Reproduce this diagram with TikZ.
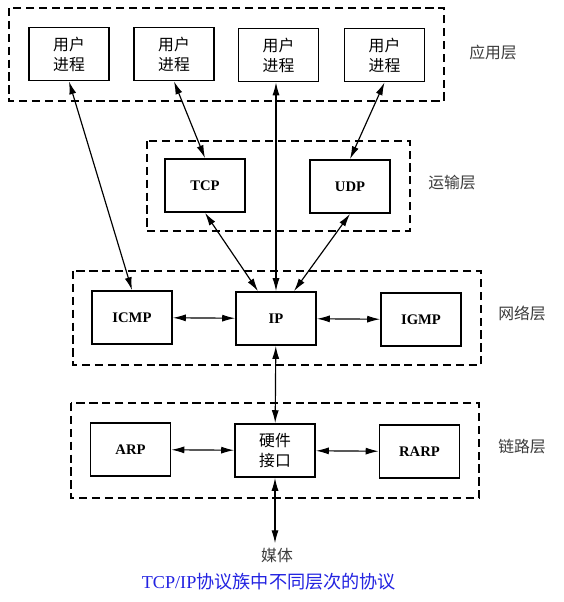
\documentclass[tikz,border=0pt]{standalone}
\usepackage{fontspec}
\setmainfont{Liberation Serif}
\newfontfamily\cjk{Noto Sans CJK SC}
\usetikzlibrary{arrows.meta,calc}

\definecolor{captionblue}{RGB}{35,35,225}
\definecolor{labelgray}{RGB}{60,60,60}

\tikzset{
	box/.style={rectangle, draw, line width=1.5pt, minimum width=2.4cm, minimum height=1.59cm, align=center, font=\bfseries\fontsize{12.5}{14}\selectfont},
	cjkbox/.style={box, font=\cjk\fontsize{13.5}{17}\selectfont},
	layer/.style={draw, dashed, line width=1.3pt, dash pattern=on 7pt off 4pt},
	layername/.style={font=\cjk\fontsize{13.5}{16}\selectfont, text=labelgray}
}

\begin{document}
\begin{tikzpicture}[x=0.03cm, y=-0.03cm, >={Latex[length=11pt,width=6pt]}, line width=1pt]
		\useasboundingbox (0, 0) rectangle (564, 602);

		\draw[layer] (9, 8) rectangle (444, 101);
		\draw[layer] (147, 141) rectangle (410, 231);
		\draw[layer] (73, 271) rectangle (481, 365);
		\draw[layer] (71, 403) rectangle (479, 498);

		\path (69, 54) node[cjkbox] (p1) {用户\\进程}
  		(174, 54) node[cjkbox] (p2) {用户\\进程}
  		(278.5, 55) node[cjkbox] (p3) {用户\\进程}
  		(384.5, 55) node[cjkbox] (p4) {用户\\进程}
  		(205, 185.5) node[box] (tcp) {TCP}
  		(350, 186.5) node[box] (udp) {UDP}
  		(132, 317.5) node[box] (icmp) {ICMP}
  		(276, 318.5) node[box] (ip) {IP}
  		(421, 319.5) node[box] (igmp) {IGMP}
  		(130.5, 449.5) node[box] (arp) {ARP}
  		(275, 450.5) node[cjkbox] (hw) {硬件\\接口}
  		(419.5, 451.5) node[box] (rarp) {RARP}
  		(277, 555) node[font=\cjk\fontsize{13.5}{16}\selectfont, text=labelgray] (media) {媒体};

		\path (493, 52) node[layername] (app) {应用层}
  		(452, 183) node[layername] (trans) {运输层}
  		(522, 313) node[layername] (net) {网络层}
  		(522, 447) node[layername] (link) {链路层};

		\path (269, 582) node[text=captionblue, font=\fontsize{15.5}{18}\selectfont] (caption) {TCP/IP{\cjk 协议族中不同层次的协议}};

		\draw[<->] (p1.south) -- (icmp.north);
		\draw[<->] (p2.south) -- (tcp.north);
		\draw[<->] (p3.south -| ip.north) -- (ip.north);
		\draw[<->] (p4.south) -- (udp.north);
		\draw[<->] (tcp.south) -- ($(ip.north)+(-18, 0)$);
		\draw[<->] (udp.south) -- ($(ip.north)+(18, 0)$);
		\draw[<->] (icmp) -- (ip);
		\draw[<->] (ip) -- (igmp);
		\draw[<->] (ip) -- (hw);
		\draw[<->] (arp) -- (hw);
		\draw[<->] (hw) -- (rarp);
		\draw[<->] (hw.south) -- (hw.south |- media.north);
	\end{tikzpicture}
\end{document}
